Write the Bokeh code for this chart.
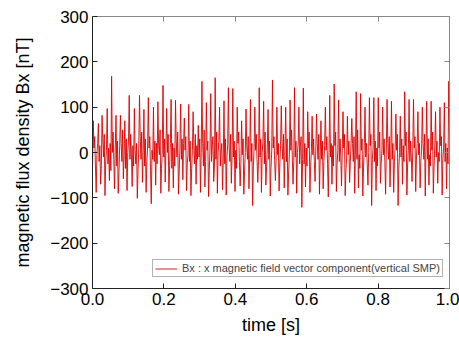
import numpy as np
from bokeh.plotting import figure
from bokeh.models import LinearAxis, Range1d, CustomJSTickFormatter, Legend, LegendItem, FixedTicker
from bokeh.embed import file_html
from bokeh.resources import INLINE

bx = [
 -40, 70, 10, 35, -30, -88, -5, 20,
 64, -20, 15, -70, -35,
 82, 30, -10, 40, -95, -20, 5,
 97, -25, 10, -62, 20, -40,
 168, 0, 45, -15, -80, 10,
 82, -30, 25, -90, -45, 15,
 82, 20, -20, 50, -58,
 -10, 70, -35, 30, -84, 0, 25,
 126, -15, 40, -5, -75, 15, -30,
 97, 5, -25, 20, -101, -40, 10,
 126, 35, -15, 45, -66,
 0, 95, -30, 30, -88, -20, 10,
 121, 10, 35, -40, -113, 5, -15,
 100, -20, 25, -72, 20, -25,
 112, 15, -5, 50, -90, -35, 5,
 148, -10, 30, -65,
 15, 97, 0, 40, -86, -30, 20,
 117, -35, 20, -78, 10, -30,
 115, 25, -10, 45, -92, -45, 10,
 107, -15, 30, -60,
 20, 76, 5, 35, -84, -25, -5,
 106, -20, 25, -95, -35, 5,
 90, 10, -25, 40, -70, 15, -15,
 60, -10, 30, -88,
 0, 157, 20, -30, 50, -76, -20,
 110, 5, 25, -97, -40, 10,
 130, -20, 15, 35, -64, -30,
 165, -15, 45, -90, 0, 25,
 100, -30, 5, 20, -82, -20,
 114, -25, 30, -94, -10, 15,
 143, 10, -20, 40, -68, -10,
 141, -10, 25, -86, 5, -35,
 100, 20, 45, -20, -74, -25,
 70, -5, 30, -92, -40, 0,
 96, 15, -15, 35, -80, -15,
 117, -20, 20, -117, -30, 10,
 100, 5, 40, -15, -66, -20,
 143, -10, 30, -88, 0, 25,
 113, -25, 45, -72, -30,
 10, 95, -15, 25, -96, -35, 5,
 160, 10, 35, -20, -62, -10,
 100, -5, 20, -85, -25, 15,
 103, 20, -15, 40, -78, 10,
 100, -20, 30, -94, -45, -5,
 116, 5, 50, -10, -70, -20,
 143, -10, 25, -90, 0, 20,
 100, -25, 15, 35, -121, -15,
 142, -25, 20, -76, 10, -30,
 90, 10, 45, -88, -30, 5,
 80, -5, 30, -20, -64, 5,
 85, 20, -15, 40, -92, -10,
 70, -15, 25, -80, -20, 15,
 100, 5, 35, -25, -98, 0,
 126, -10, 20, -70, 15, -30,
 151, 15, 45, -86, -25, 5,
 116, -20, 30, -10, -74, 5,
 90, 10, 40, -95, -40, -10,
 80, -5, 25, -66, -20, 20,
 75, 20, -20, 35, -90, 10,
 134, -15, 50, -78, -5, -35,
 130, 5, 30, -96, -30, 15,
 100, -10, 20, -25, -72, 0,
 121, 15, 40, -117, -15, 10,
 121, -20, 25, -84, 10, -30,
 121, 10, 45, -68, -25, 5,
 100, -5, 30, -20, -92, 5,
 117, 20, -15, 35, -76, -10,
 113, -15, 20, -88, -20, 10,
 85, 5, 40, -117, -35, 0,
 80, -10, 30, -70, 15, -20,
 134, 15, 45, -94, -25, 5,
 117, -20, 25, -10, -64, 5,
 117, 10, 35, -86, -10, 20,
 90, -5, 20, -78, -20, 5,
 100, 20, -15, 40, -96, 10,
 113, -15, 30, -72, -5, -30,
 113, 5, 45, -90, -30, 15,
 90, -10, 25, -68, 0, -20,
 100, 15, 35, -94, -15, 10,
 110, -20, 20, -80, 10, -25,
 157, 40,
]
t = np.linspace(0.0, 1.0, len(bx))

x_ticks = [0.0, 0.2, 0.4, 0.6, 0.8, 1.0]
y_ticks = [-300, -200, -100, 0, 100, 200, 300]
legend_label = "Bx : x magnetic field vector component(vertical SMP)"

FONT = "Liberation Sans"

p = figure(width=459, height=340, output_backend="svg", toolbar_location=None,
           x_range=Range1d(0, 1), y_range=Range1d(-300, 300),
           min_border_left=92, min_border_right=10, min_border_top=16, min_border_bottom=52)
p.grid.visible = False
p.outline_line_color = None
p.background_fill_color = "white"
p.border_fill_color = "white"

r = p.line(t, bx, line_color="#dc0000", line_width=0.9)

y_fmt = CustomJSTickFormatter(code="return tick < 0 ? '\u2212' + Math.abs(tick) : '' + tick;")
x_fmt = CustomJSTickFormatter(code="return tick.toFixed(1);")

xa = p.xaxis[0]
xa.ticker = FixedTicker(ticks=x_ticks)
xa.formatter = x_fmt
xa.axis_label = "time [s]"
ya = p.yaxis[0]
ya.ticker = FixedTicker(ticks=y_ticks)
ya.formatter = y_fmt
ya.axis_label = "magnetic flux density Bx [nT]"

for ax in (xa, ya):
    ax.major_tick_in = 5
    ax.major_tick_out = 0
    ax.minor_tick_in = 0
    ax.minor_tick_out = 0
    ax.axis_line_color = "#222222"
    ax.major_tick_line_color = "#222222"
    ax.major_label_text_font = FONT
    ax.major_label_text_font_size = "17px"
    ax.major_label_text_color = "black"
    ax.major_label_standoff = 4
    ax.axis_label_text_font = FONT
    ax.axis_label_text_font_size = "18px"
    ax.axis_label_text_font_style = "normal"
    ax.axis_label_text_color = "black"
xa.axis_label_standoff = 7
ya.axis_label_standoff = 14

top = LinearAxis(ticker=FixedTicker(ticks=x_ticks))
right = LinearAxis(ticker=FixedTicker(ticks=y_ticks))
for ax in (top, right):
    ax.major_tick_in = 5
    ax.major_tick_out = 0
    ax.minor_tick_in = 0
    ax.minor_tick_out = 0
    ax.axis_line_color = "#888888"
    ax.major_tick_line_color = "#888888"
    ax.major_label_text_font_size = "1px"
    ax.major_label_text_color = None
    ax.major_label_standoff = 0
p.add_layout(top, "above")
p.add_layout(right, "right")

legend = Legend(items=[LegendItem(label=legend_label, renderers=[r])],
                location=(60, 11), padding=2, margin=0, spacing=0,
                glyph_width=22, glyph_height=11, label_height=11, label_standoff=5,
                label_text_font=FONT, label_text_font_size="11px",
                border_line_color="#666666", border_line_width=1,
                background_fill_color="white", background_fill_alpha=1)
p.add_layout(legend)

open("out.html", "w").write(file_html(p, INLINE))
